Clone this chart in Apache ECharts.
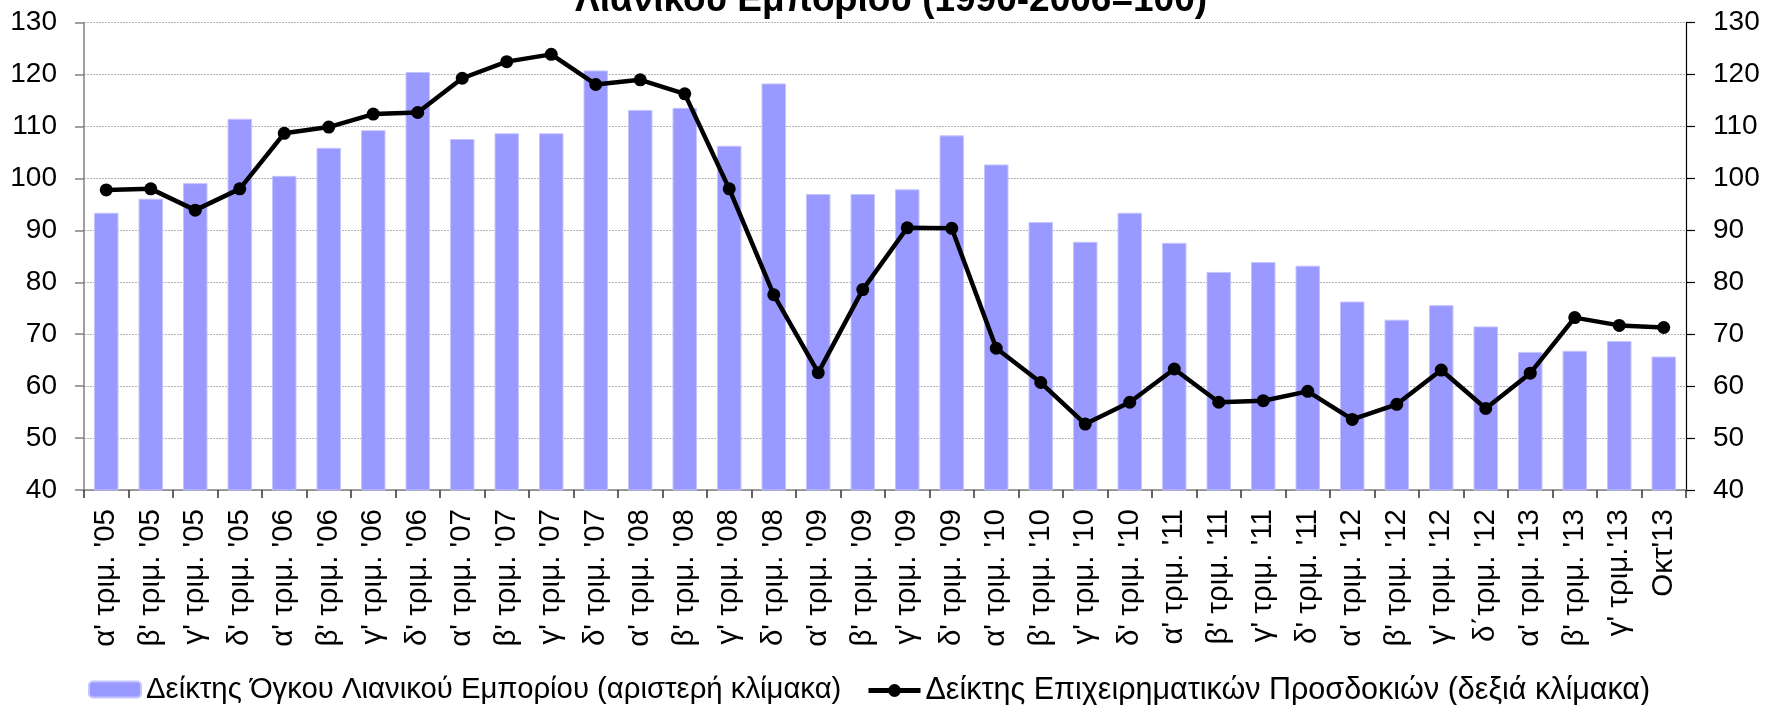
<!DOCTYPE html>
<html>
<head>
<meta charset="utf-8">
<script src="https://cdn.jsdelivr.net/npm/echarts@6/dist/echarts.min.js"></script>
<style>
html,body{margin:0;padding:0;background:#fff;}
#c{width:1766px;height:705px;}
</style>
</head>
<body>
<div id="c"></div>
<script>
const categories = [
  "α' τριμ. '05","β' τριμ. '05","γ' τριμ. '05","δ' τριμ. '05",
  "α' τριμ. '06","β' τριμ. '06","γ' τριμ. '06","δ' τριμ. '06",
  "α' τριμ. '07","β' τριμ. '07","γ' τριμ. '07","δ' τριμ. '07",
  "α' τριμ. '08","β' τριμ. '08","γ' τριμ. '08","δ' τριμ. '08",
  "α' τριμ. '09","β' τριμ. '09","γ' τριμ. '09","δ' τριμ. '09",
  "α' τριμ. '10","β' τριμ. '10","γ' τριμ. '10","δ' τριμ. '10",
  "α' τριμ. '11","β' τριμ. '11","γ' τριμ. '11","δ' τριμ. '11",
  "α' τριμ. '12","β' τριμ. '12","γ' τριμ. '12","δ΄τριμ. '12",
  "α' τριμ. '13","β' τριμ. '13","γ' τριμ.'13","Οκτ'13"
];
const retailVolume = [
  93.4, 96.1, 99.1, 111.5,
  100.5, 105.9, 109.3, 120.5,
  107.6, 108.7, 108.7, 120.8,
  113.2, 113.6, 106.3, 118.3,
  97.0, 97.0, 97.9, 108.3,
  102.7, 91.6, 87.8, 93.4,
  87.6, 82.0, 83.9, 83.2,
  76.3, 72.8, 75.6, 71.5,
  66.6, 66.8, 68.7, 65.7
];
const businessExpectations = [
  97.8, 98.0, 93.9, 98.0,
  108.7, 109.9, 112.4, 112.7,
  119.3, 122.5, 123.9, 118.1,
  119.0, 116.3, 98.0, 77.6,
  62.6, 78.6, 90.5, 90.4,
  67.3, 60.7, 52.7, 56.9,
  63.3, 56.9, 57.2, 59.0,
  53.6, 56.5, 63.1, 55.7,
  62.5, 73.2, 71.7, 71.3
];
const titleText = "Λιανικού Εμπορίου (1990-2006=100)";
const barName = "Δείκτης Όγκου Λιανικού Εμπορίου (αριστερή κλίμακα)";
const lineName = "Δείκτης Επιχειρηματικών Προσδοκιών (δεξιά κλίμακα)";

const FONT = "'Liberation Sans', Arial, sans-serif";
const chart = echarts.init(document.getElementById('c'), null, {renderer: 'canvas'});
chart.setOption({
  animation: false,
  backgroundColor: '#ffffff',
  textStyle: {fontFamily: FONT, color: '#000'},
  title: {
    text: titleText,
    left: 891,
    textAlign: 'center',
    top: -18,
    padding: 0,
    textStyle: {fontFamily: FONT, fontSize: 37, fontWeight: 'bold', color: '#000'}
  },
  legend: [
    {
      data: [barName],
      left: 88, top: 675,
      itemWidth: 52, itemHeight: 16,
      padding: 0,
      textStyle: {fontFamily: FONT, fontSize: 29.3, color: '#000'}
    },
    {
      data: [lineName],
      left: 866, top: 675,
      itemWidth: 52, itemHeight: 16,
      padding: 0,
      lineStyle: {width: 5, color: '#000'},
      textStyle: {fontFamily: FONT, fontSize: 30.5, color: '#000'}
    }
  ],
  grid: {left: 84, right: 80, top: 22.7, bottom: 215, containLabel: false},
  xAxis: {
    type: 'category',
    data: categories,
    boundaryGap: true,
    axisLine: {show: true, lineStyle: {color: '#808080', width: 1.5}},
    axisTick: {show: true, alignWithLabel: false, length: 8, lineStyle: {color: '#333', width: 1.5}},
    axisLabel: {interval: 0, rotate: 90, margin: 19, fontFamily: FONT, fontSize: 29.5, color: '#000'}
  },
  yAxis: [
    {
      type: 'value', min: 40, max: 130, interval: 10, position: 'left',
      axisLine: {show: true, lineStyle: {color: '#808080', width: 1.5}},
      axisTick: {show: true, length: 9, lineStyle: {color: '#808080', width: 1.5}},
      axisLabel: {margin: 27, fontFamily: FONT, fontSize: 28, color: '#000'},
      splitLine: {show: true, lineStyle: {color: '#b4b4b4', type: [2, 1], width: 1}}
    },
    {
      type: 'value', min: 40, max: 130, interval: 10, position: 'right',
      axisLine: {show: true, lineStyle: {color: '#000', width: 1.2}},
      axisTick: {show: true, length: 9, lineStyle: {color: '#000', width: 1.2}},
      axisLabel: {margin: 27, fontFamily: FONT, fontSize: 28, color: '#000'},
      splitLine: {show: false}
    }
  ],
  series: [
    {
      name: barName,
      type: 'bar',
      yAxisIndex: 0,
      data: retailVolume,
      barWidth: '55%',
      itemStyle: {color: '#9999ff', borderColor: '#c4c4ff', borderWidth: 1}
    },
    {
      name: lineName,
      type: 'line',
      yAxisIndex: 1,
      data: businessExpectations,
      symbol: 'circle',
      symbolSize: 13,
      lineStyle: {color: '#000', width: 4.5},
      itemStyle: {color: '#000'}
    }
  ]
});
</script>
</body>
</html>
